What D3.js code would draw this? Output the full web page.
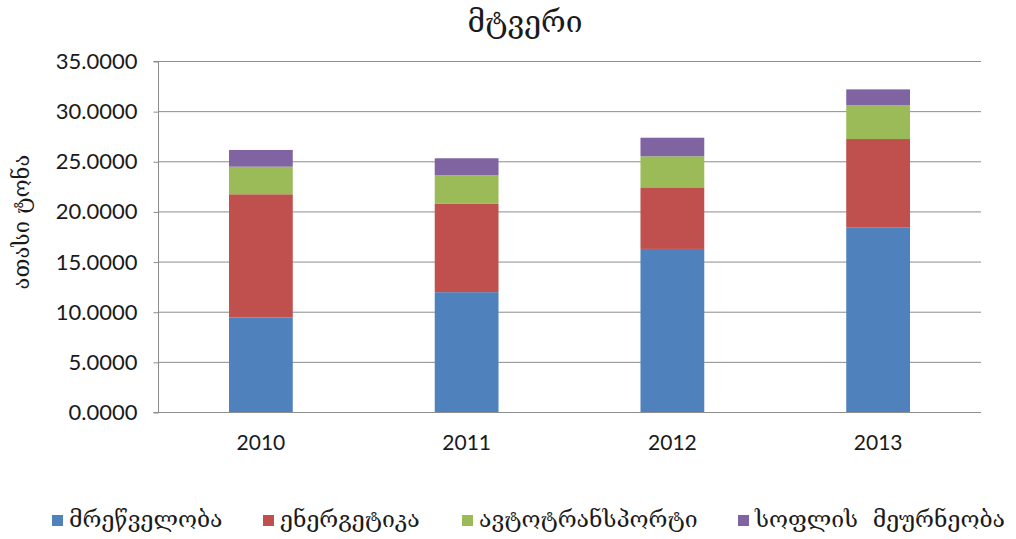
<!DOCTYPE html>
<html>
<head>
<meta charset="utf-8">
<script src="https://cdn.jsdelivr.net/npm/d3@7"></script>
<style>
body { margin: 0; background: #fff; }
.geo { font-family: "DejaVu Serif", "DejaVu Sans", serif; }
.num { font-family: Lato, "Open Sans", sans-serif; }
</style>
</head>
<body>
<svg id="chart" width="1016" height="539"></svg>
<script>
// data
var years = ["2010", "2011", "2012", "2013"];
var seriesNames = ["მრეწველობა", "ენერგეტიკა", "ავტოტრანსპორტი", "სოფლის  მეურნეობა"];
var industry = [9.42, 11.95, 16.26, 18.42];
var energy = [12.29, 8.80, 6.14, 8.80];
var transport = [2.75, 2.85, 3.10, 3.36];
var agriculture = [1.67, 1.70, 1.85, 1.59];
var yTicks = [0, 5, 10, 15, 20, 25, 30, 35];
var colors = ["#4F81BD", "#C0504D", "#9BBB59", "#8064A2"];

var svg = d3.select("#chart");
var pLeft = 158, pRight = 981, pTop = 61, pBottom = 412;

var rows = years.map(function(y, i) {
	return {year: y, s0: industry[i], s1: energy[i], s2: transport[i], s3: agriculture[i]};
});
var stack = d3.stack().keys(["s0", "s1", "s2", "s3"])(rows);

var x = d3.scaleBand()
	.domain(years)
	.range([pLeft, pRight])
	.paddingInner(0.69)
	.paddingOuter(0.345);
var y = d3.scaleLinear()
	.domain([0, 35])
	.range([pBottom, pTop]);

// gridlines
svg.append("g")
	.selectAll("line")
	.data(yTicks.slice(1))
	.enter()
	.append("line")
	.attr("x1", pLeft).attr("x2", pRight)
	.attr("y1", function(d) { return y(d) + 0.5; })
	.attr("y2", function(d) { return y(d) + 0.5; })
	.attr("stroke", "#8c8c8c")
	.attr("stroke-width", 1);

// bars
svg.append("g")
	.selectAll("g")
	.data(stack)
	.enter()
	.append("g")
	.attr("fill", function(d, i) { return colors[i]; })
	.selectAll("rect")
	.data(function(d) { return d; })
	.enter()
	.append("rect")
	.attr("x", function(d) { return x(d.data.year); })
	.attr("width", x.bandwidth())
	.attr("y", function(d) { return y(d[1]); })
	.attr("height", function(d) { return y(d[0]) - y(d[1]); });

// y axis
var yAxis = d3.axisLeft(y)
	.tickValues(yTicks)
	.tickSize(5)
	.tickPadding(16)
	.tickFormat(d3.format(".4f"));
var yg = svg.append("g")
	.attr("transform", "translate(" + (pLeft + 0.5) + ",0.5)")
	.call(yAxis);
yg.select(".domain").attr("stroke", "#8c8c8c").attr("d", "M-5," + pTop + "H0V" + pBottom + "H-5");
yg.selectAll(".tick line").attr("stroke", "#8c8c8c");
yg.selectAll(".tick text")
	.attr("class", "num")
	.style("font-size", "22px")
	.attr("fill", "#1a1a1a");

// x axis
var xAxis = d3.axisBottom(x).tickSize(0).tickPadding(23);
var xg = svg.append("g")
	.attr("transform", "translate(0," + (pBottom + 0.5) + ")")
	.call(xAxis);
xg.select(".domain").attr("stroke", "#8c8c8c").attr("d", "M" + pLeft + ",0H" + pRight);
xg.selectAll(".tick text")
	.attr("class", "num")
	.style("font-size", "21px")
	.attr("fill", "#1a1a1a");

// title
svg.append("text")
	.attr("class", "geo")
	.attr("x", 525).attr("y", 32)
	.attr("text-anchor", "middle")
	.style("font-size", "30px")
	.attr("fill", "#1a1a1a")
	.text("მტვერი");

// y label
svg.append("text")
	.attr("class", "geo")
	.attr("transform", "translate(29,222) rotate(-90)")
	.attr("text-anchor", "middle")
	.style("font-size", "22px")
	.attr("fill", "#1a1a1a")
	.text("ათასი ტონა");

// legend
var legX = [52, 263, 462, 738];
var leg = svg.append("g")
	.selectAll("g")
	.data(seriesNames)
	.enter()
	.append("g")
	.attr("transform", function(d, i) { return "translate(" + legX[i] + ",515)"; });
leg.append("rect")
	.attr("width", 11).attr("height", 11)
	.attr("fill", function(d, i) { return colors[i]; });
leg.append("text")
	.attr("class", "geo")
	.attr("x", 17).attr("y", 12)
	.style("font-size", "23px")
	.style("white-space", "pre")
	.attr("fill", "#1a1a1a")
	.text(function(d) { return d; });
</script>
</body>
</html>
